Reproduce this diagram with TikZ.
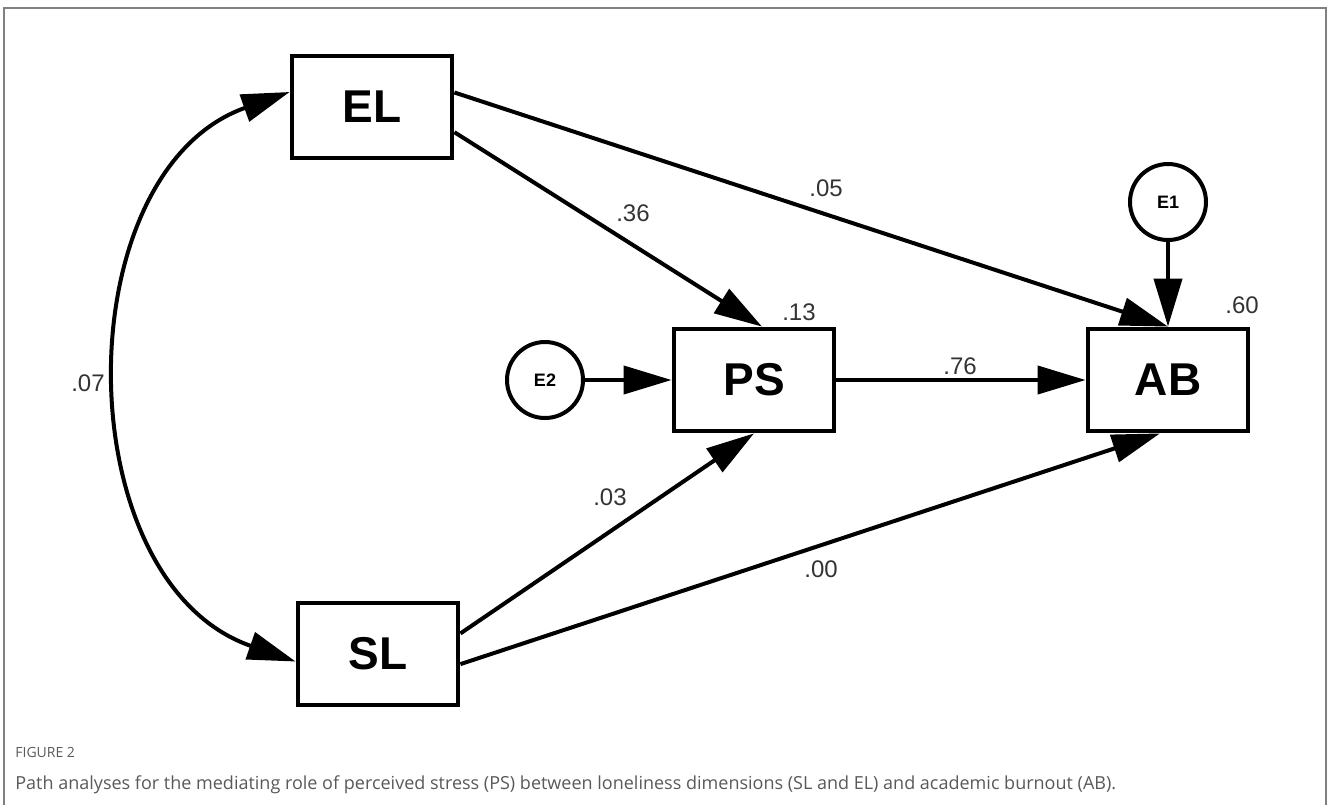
\documentclass[tikz,border=0pt]{standalone}
\usepackage{fontspec}
\setmainfont{Liberation Sans}
\newfontfamily\capfont{Open Sans}
\usetikzlibrary{arrows.meta}
\definecolor{pFrame}{gray}{0.5}
\definecolor{pLabel}{gray}{0.2}
\definecolor{pCap}{gray}{0.35}
\tikzset{
    box/.style={rectangle, draw, line width=2.4pt, minimum width=80pt, minimum height=51pt, font=\fontsize{23}{23}\selectfont\bfseries},
    err/.style={circle, draw, line width=2pt, inner sep=0pt, minimum size=38pt, font=\fontsize{9}{9}\selectfont\bfseries},
    arr/.style={line width=2pt, -{Triangle[length=24pt,width=14pt]}},
    cov/.style={line width=2pt, {Triangle[length=24pt,width=14pt]}-{Triangle[length=24pt,width=14pt]}},
    lbl/.style={font=\fontsize{12}{12}\selectfont, text=pLabel, inner sep=0pt}
}

\begin{document}
\begin{tikzpicture}[x=0.5pt,y=-0.5pt]
\useasboundingbox (0,0) rectangle (1328,805);
\draw[line width=1pt,pFrame] (4,805)--(4,8)--(1326,8)--(1326,805);
% variables
\node[box] (EL) at (372,107) {EL};
\node[box] (SL) at (378,654) {SL};
\node[box] (PS) at (754,380) {PS};
\node[box] (AB) at (1168,380) {AB};
\node[err] (E1) at (1168,202) {E1};
\node[err] (E2) at (545,380) {E2};
% paths
\draw[cov] ([yshift=7.5pt]EL.west) .. controls +(-225,80) and +(-230,-80) .. ([yshift=-3.75pt]SL.west);
\draw[arr] (EL.-17) -- ([xshift=4pt]PS.north);
\draw[arr] (EL.10) -- (AB.north);
\draw[arr] (SL.14) -- (PS.south);
\draw[arr] (SL.-7) -- ([xshift=-4pt]AB.south);
\draw[arr] (PS.east) -- (AB.west);
\draw[arr] (E1.south) -- (AB.north);
\draw[arr] (E2.east) -- (PS.west);
% estimates
\node[lbl] (c07) at (88,383) {.07};
\node[lbl] (b36) at (633,213) {.36};
\node[lbl] (b05) at (826,188) {.05};
\node[lbl] (r13) at (799,312) {.13};
\node[lbl] (r60) at (1242,305) {.60};
\node[lbl] (b76) at (960,366) {.76};
\node[lbl] (b03) at (610,497) {.03};
\node[lbl] (b00) at (821,569) {.00};
% caption
\node[anchor=base west, inner sep=0pt, text=pCap, font=\capfont\fontsize{7}{7}\selectfont] (fig) at (15,757) {FIGURE 2};
\node[anchor=base west, inner sep=0pt, text=pCap, font=\capfont\fontsize{9}{9}\selectfont] (cap) at (15,789) {Path analyses for the mediating role of perceived stress (PS) between loneliness dimensions (SL and EL) and academic burnout (AB).};
\end{tikzpicture}
\end{document}
